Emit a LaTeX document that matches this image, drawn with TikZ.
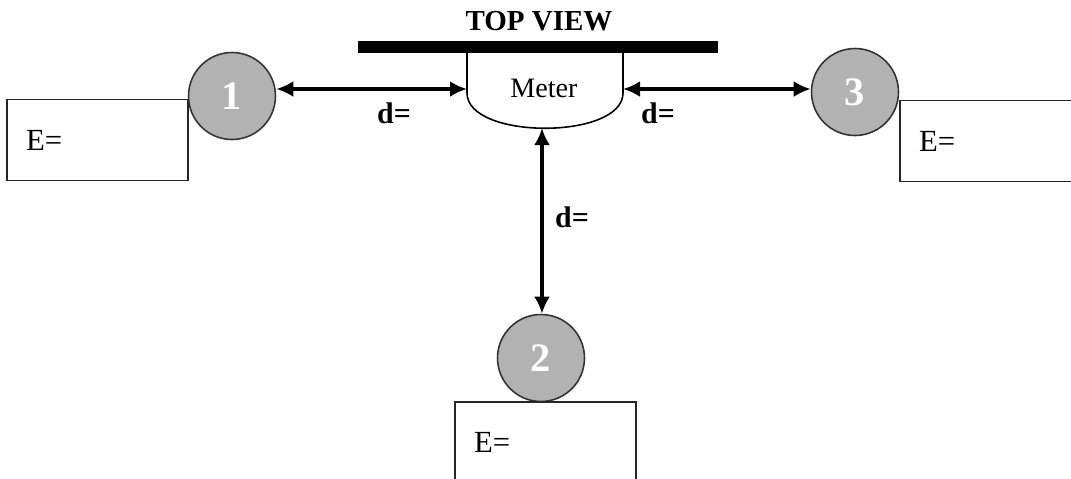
\documentclass[tikz,border=0pt]{standalone}
\usepackage{fontspec}
\setmainfont{Liberation Serif}
\usetikzlibrary{arrows.meta}

\tikzset{
  source/.style={circle, draw=black!80, fill=black!30, line width=0.9pt, minimum size=1.74cm, inner sep=0pt, text=white, font=\fontsize{23}{23}\selectfont\bfseries},
  ebox/.style={rectangle, draw=black!85, line width=0.9pt, minimum width=3.62cm, minimum height=1.62cm, text width=2.86cm, inner xsep=0.38cm, align=left, font=\fontsize{17.5}{20}\selectfont},
  dist/.style={font=\fontsize{17}{19}\selectfont\bfseries},
  dArrow/.style={{Latex[length=0.34cm,width=0.32cm]}-{Latex[length=0.34cm,width=0.32cm]}, line width=2.3pt}
}

\begin{document}
\begin{tikzpicture}[x=0.02cm, y=-0.02cm]
  \useasboundingbox (0,0) rectangle (1071,478);
  \clip (0,0) rectangle (1071,478);

  % wall and meter
  \node[font=\fontsize{16.5}{18}\selectfont\bfseries] (title) at (539,21) {TOP VIEW};
  \fill[black] (358,41) rectangle (718,53);
  \draw[line width=0.9pt] (467,53) -- (467,93) .. controls (467,140) and (623,140) .. (623,93) -- (623,53);
  \node[font=\fontsize{16}{18}\selectfont] (meter) at (544,88) {Meter};
  \coordinate (mL) at (467,89);
  \coordinate (mR) at (623,89);
  \coordinate (mB) at (542,128);

  % sources
  \node[source] (s1) at (232,96) {1};
  \node[source] (s2) at (541,358) {2};
  \node[source] (s3) at (855,92) {3};

  % readings
  \node[ebox] (e1) at (97.5,140) {E=};
  \node[ebox] (e2) at (545.5,442.5) {E=};
  \node[ebox] (e3) at (990.5,141) {E=};

  % distances
  \draw[dArrow] (s1.east |- mL) -- (mL);
  \draw[dArrow] (mR) -- (s3.west |- mR);
  \draw[dArrow] (mB) -- (mB |- s2.north);
  \node[dist] (dL) at (394,113) {d=};
  \node[dist] (dR) at (658,113) {d=};
  \node[dist] (dB) at (572,217) {d=};
\end{tikzpicture}
\end{document}
